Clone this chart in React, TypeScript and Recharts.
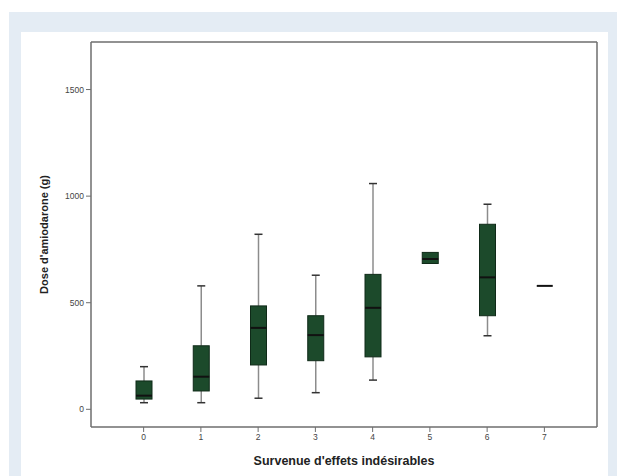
import { ComposedChart, Bar, XAxis, YAxis } from 'recharts';

const categories = ['0', '1', '2', '3', '4', '5', '6', '7'];
const whiskerLow = [31, 31, 52, 78, 137, 684, 345, 579];
const q1 = [48, 86, 208, 228, 246, 684, 439, 579];
const median = [64, 153, 382, 348, 476, 705, 619, 579];
const q3 = [133, 298, 485, 439, 633, 736, 868, 579];
const whiskerHigh = [200, 579, 821, 629, 1059, 736, 962, 579];
const yTicks = [0, 500, 1000, 1500];

const data = categories.map((cat, i) => ({
  cat,
  low: whiskerLow[i],
  q1: q1[i],
  med: median[i],
  q3: q3[i],
  high: whiskerHigh[i],
}));

const FONT = "Arial, 'Liberation Sans', sans-serif";
const BOX_FILL = '#1c4a2b';
const FRAME = '#6e6e6e';

function BoxShape(props: any) {
  const { x, y, width, height, payload } = props;
  const { low, high } = payload;
  const span = high - low;
  const py = (v: number) => (span === 0 ? y : y + ((high - v) / span) * height);
  const cx = x + width / 2;
  const cap = 4;
  const top = py(payload.q3);
  const bottom = py(payload.q1);
  const m = py(payload.med);
  return (
    <g>
      {payload.high > payload.q3 && (
        <>
          <line x1={cx} x2={cx} y1={py(payload.high)} y2={top} stroke="#8c8c8c" strokeWidth={1.5} />
          <line x1={cx - cap} x2={cx + cap} y1={py(payload.high)} y2={py(payload.high)} stroke="#333" strokeWidth={1.5} />
        </>
      )}
      {payload.low < payload.q1 && (
        <>
          <line x1={cx} x2={cx} y1={bottom} y2={py(payload.low)} stroke="#8c8c8c" strokeWidth={1.5} />
          <line x1={cx - cap} x2={cx + cap} y1={py(payload.low)} y2={py(payload.low)} stroke="#333" strokeWidth={1.5} />
        </>
      )}
      {bottom > top && (
        <rect x={x} y={top} width={width} height={bottom - top} fill={BOX_FILL} stroke="#0f2a18" strokeWidth={1} />
      )}
      <line x1={x} x2={x + width} y1={m} y2={m} stroke="#111" strokeWidth={2} />
    </g>
  );
}

export default function App() {
  return (
    <div style={{ position: 'relative', width: 617, height: 476, background: '#fff', overflow: 'hidden' }}>
      <style>{`body{margin:0}`}</style>
      <div style={{ position: 'absolute', left: 9, top: 12, right: 0, bottom: 0, background: '#e4ecf4' }} />
      <div style={{ position: 'absolute', left: 21, top: 32, width: 587, bottom: 0, background: '#fff' }} />
      <div style={{ position: 'absolute', left: 0, top: 0 }}>
        <ComposedChart
          width={617}
          height={476}
          data={data}
          margin={{ top: 41, right: 19, bottom: 0, left: 0 }}
          style={{ fontFamily: FONT }}
        >
          <XAxis
            dataKey="cat"
            height={49}
            padding={{ left: 24, right: 24 }}
            tick={{ fontSize: 8.5, fill: '#444' }}
            tickSize={5}
            stroke={FRAME}
            axisLine={{ stroke: FRAME, strokeWidth: 1.5 }}
            label={{
              value: "Survenue d'effets indésirables",
              position: 'insideBottom',
              offset: 11,
              style: { fontSize: 12.5, fontWeight: 'bold', fill: '#222', fontFamily: FONT },
            }}
          />
          <XAxis
            xAxisId="top"
            dataKey="cat"
            orientation="top"
            height={1}
            tick={false}
            tickLine={false}
            axisLine={{ stroke: FRAME, strokeWidth: 1.5 }}
          />
          <YAxis
            type="number"
            width={91}
            domain={[-83, 1723]}
            ticks={yTicks}
            allowDataOverflow
            tick={{ fontSize: 8.5, fill: '#444' }}
            tickSize={5}
            stroke={FRAME}
            axisLine={{ stroke: FRAME, strokeWidth: 1.5 }}
            label={{
              value: "Dose d'amiodarone (g)",
              angle: -90,
              position: 'insideLeft',
              offset: 44,
              style: { fontSize: 11, fontWeight: 'bold', fill: '#222', textAnchor: 'middle', fontFamily: FONT },
            }}
          />
          <YAxis
            yAxisId="right"
            orientation="right"
            width={1}
            domain={[-83, 1723]}
            tick={false}
            tickLine={false}
            axisLine={{ stroke: FRAME, strokeWidth: 1.5 }}
          />
          <Bar
            dataKey={(d: any) => [d.low, d.high]}
            barSize={16}
            shape={BoxShape}
            isAnimationActive={false}
          />
        </ComposedChart>
      </div>
    </div>
  );
}
